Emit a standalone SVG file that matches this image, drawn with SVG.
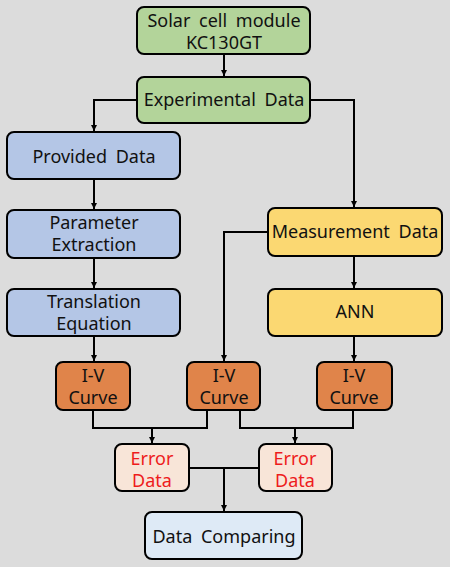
<svg xmlns="http://www.w3.org/2000/svg" width="450" height="567" viewBox="0 0 450 567">
<defs>
<marker id="ah" viewBox="0 0 10 10" refX="10" refY="5" markerWidth="6" markerHeight="6" markerUnits="userSpaceOnUse" orient="auto"><path d="M0,0 L10,5 L0,10 z" fill="#000"/></marker>
<style>
.box{stroke:#000;stroke-width:2}
text{font-family:"Noto Sans","DejaVu Sans",sans-serif;font-size:18px;fill:#111;text-anchor:middle;word-spacing:4px}
.red{fill:#ee1c1c}
.ln{fill:none;stroke:#000;stroke-width:2}
</style>
</defs>
<rect width="450" height="567" fill="#dcdcdc"/>
<g id="connectors">
<path class="ln" d="M224,54 V76" marker-end="url(#ah)"/>
<path class="ln" d="M137,100 H94 V131" marker-end="url(#ah)"/>
<path class="ln" d="M310,100 H354 V207" marker-end="url(#ah)"/>
<path class="ln" d="M94,179 V209" marker-end="url(#ah)"/>
<path class="ln" d="M94,258 V288" marker-end="url(#ah)"/>
<path class="ln" d="M94,336 V361" marker-end="url(#ah)"/>
<path class="ln" d="M268,232 H224 V361" marker-end="url(#ah)"/>
<path class="ln" d="M354,256 V288" marker-end="url(#ah)"/>
<path class="ln" d="M354,336 V361" marker-end="url(#ah)"/>
<path class="ln" d="M93,410 V428 H207 V410"/>
<path class="ln" d="M152,428 V443" marker-end="url(#ah)"/>
<path class="ln" d="M240,410 V428 H353 V410"/>
<path class="ln" d="M295,428 V443" marker-end="url(#ah)"/>
<path class="ln" d="M189,468 H259"/>
<path class="ln" d="M224,468 V511" marker-end="url(#ah)"/>
</g>
<g id="solar"><rect class="box" x="137" y="7" width="173" height="47" rx="7" fill="#b3d49a"/><text x="224" y="27">Solar cell module</text><text x="224" y="49">KC130GT</text></g>
<g id="experimental"><rect class="box" x="137" y="77" width="173" height="46" rx="7" fill="#b3d49a"/><text x="224" y="106">Experimental Data</text></g>
<g id="provided"><rect class="box" x="7" y="132" width="173" height="47" rx="7" fill="#b4c6e6"/><text x="94" y="163">Provided Data</text></g>
<g id="parameter"><rect class="box" x="7" y="210" width="173" height="48" rx="7" fill="#b4c6e6"/><text x="94" y="229">Parameter</text><text x="94" y="251">Extraction</text></g>
<g id="translation"><rect class="box" x="7" y="289" width="173" height="47" rx="7" fill="#b4c6e6"/><text x="94" y="308">Translation</text><text x="94" y="330">Equation</text></g>
<g id="measurement"><rect class="box" x="268" y="208" width="174" height="48" rx="7" fill="#fbd872"/><text x="355" y="238">Measurement Data</text></g>
<g id="ann"><rect class="box" x="268" y="289" width="174" height="47" rx="7" fill="#fbd872"/><text x="355" y="318">ANN</text></g>
<g id="iv1"><rect class="box" x="56" y="362" width="74" height="48" rx="7" fill="#e0844a"/><text x="93" y="382">I-V</text><text x="93" y="404">Curve</text></g>
<g id="iv2"><rect class="box" x="187" y="362" width="73" height="48" rx="7" fill="#e0844a"/><text x="224" y="382">I-V</text><text x="224" y="404">Curve</text></g>
<g id="iv3"><rect class="box" x="317" y="362" width="75" height="48" rx="7" fill="#e0844a"/><text x="354" y="382">I-V</text><text x="354" y="404">Curve</text></g>
<g id="error1"><rect class="box" x="115" y="444" width="74" height="47" rx="7" fill="#f8e5d8"/><text class="red" x="152" y="465">Error</text><text class="red" x="152" y="487">Data</text></g>
<g id="error2"><rect class="box" x="259" y="444" width="73" height="47" rx="7" fill="#f8e5d8"/><text class="red" x="295" y="465">Error</text><text class="red" x="295" y="487">Data</text></g>
<g id="comparing"><rect class="box" x="145" y="512" width="157" height="47" rx="7" fill="#deeaf6"/><text x="224" y="543">Data Comparing</text></g>
</svg>
